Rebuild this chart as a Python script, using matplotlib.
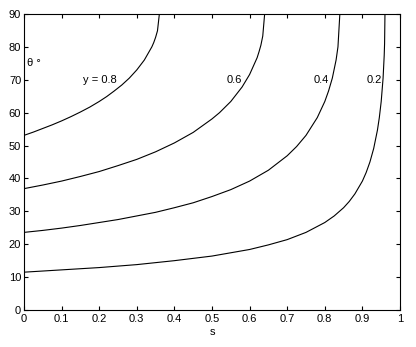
import matplotlib
matplotlib.use("Agg")
import matplotlib.pyplot as plt

plt.rcParams['font.family'] = ['Liberation Sans', 'DejaVu Sans']

# curves of constant y: s values and theta (degrees)
s_08 = [0.0, 0.025, 0.05, 0.075, 0.10, 0.125, 0.15, 0.175, 0.20, 0.22, 0.24, 0.26, 0.28,
        0.30, 0.32, 0.34, 0.345, 0.35, 0.355, 0.36]
th_08 = [53.1, 54.1, 55.2, 56.3, 57.5, 58.8, 60.2, 61.7, 63.4, 64.9, 66.6, 68.4, 70.5,
         73.0, 76.0, 80.0, 81.3, 82.9, 84.9, 90.0]

s_06 = [0.0, 0.05, 0.1, 0.15, 0.2, 0.25, 0.3, 0.35, 0.4, 0.45, 0.5, 0.52, 0.55, 0.58,
        0.60, 0.62, 0.625, 0.63, 0.635, 0.64]
th_06 = [36.9, 38.0, 39.2, 40.6, 42.1, 43.9, 45.8, 48.1, 50.8, 54.0, 58.1, 60.0, 63.4, 67.8,
         71.6, 76.7, 78.5, 80.5, 83.3, 90.0]

s_04 = [0.0, 0.05, 0.1, 0.15, 0.2, 0.25, 0.3, 0.35, 0.4, 0.45, 0.5, 0.55, 0.6, 0.65, 0.7,
        0.725, 0.75, 0.78, 0.80, 0.81, 0.82, 0.83, 0.835, 0.84]
th_04 = [23.6, 24.2, 24.9, 25.7, 26.6, 27.5, 28.6, 29.7, 31.1, 32.6, 34.5, 36.6, 39.2, 42.5, 46.9,
         49.7, 53.1, 58.5, 63.4, 66.6, 70.5, 76.0, 80.0, 90.0]

s_02 = [0.0, 0.1, 0.2, 0.3, 0.4, 0.5, 0.6, 0.65, 0.7, 0.75, 0.8, 0.825, 0.85, 0.865, 0.88,
        0.90, 0.91, 0.92, 0.93, 0.94, 0.945, 0.95, 0.955, 0.958, 0.959, 0.96]
th_02 = [11.5, 12.2, 12.9, 13.8, 15.0, 16.4, 18.4, 19.8, 21.4, 23.6, 26.6, 28.6, 31.1, 33.0, 35.3,
         39.2, 41.8, 45.0, 49.1, 54.7, 58.5, 63.4, 70.5, 77.4, 81.0, 90.0]

curve_labels = ["y = 0.8", "0.6", "0.4", "0.2"]
label_s = [0.157, 0.54, 0.77, 0.912]
label_th = [70, 70, 70, 70]

x_ticks = [0, 0.1, 0.2, 0.3, 0.4, 0.5, 0.6, 0.7, 0.8, 0.9, 1]
x_tick_labels = ["0", "0.1", "0.2", "0.3", "0.4", "0.5", "0.6", "0.7", "0.8", "0.9", "1"]
y_ticks = [0, 10, 20, 30, 40, 50, 60, 70, 80, 90]

fig = plt.figure(figsize=(4.16, 3.47), dpi=100)
ax = fig.add_axes([24/416, 37/347, 376/416, 296/347])

for s, th in [(s_08, th_08), (s_06, th_06), (s_04, th_04), (s_02, th_02)]:
    ax.plot(s, th, color='black', lw=0.8)

for txt, xs, ys in zip(curve_labels, label_s, label_th):
    ax.text(xs, ys, txt, fontsize=8, ha='left', va='center')

ax.text(0.008, 75, "θ °", fontsize=8, ha='left', va='center')

ax.set_xlim(0, 1)
ax.set_ylim(0, 90)
ax.set_xticks(x_ticks)
ax.set_xticklabels(x_tick_labels)
ax.set_yticks(y_ticks)
ax.tick_params(direction='in', length=3, width=0.8, labelsize=8,
               top=True, right=True, pad=3)
ax.tick_params(axis='y', pad=2)
ax.set_xlabel("s", fontsize=8, labelpad=2)
for sp in ax.spines.values():
    sp.set_linewidth(0.8)

fig.savefig("out.png", dpi=100, facecolor='w')
